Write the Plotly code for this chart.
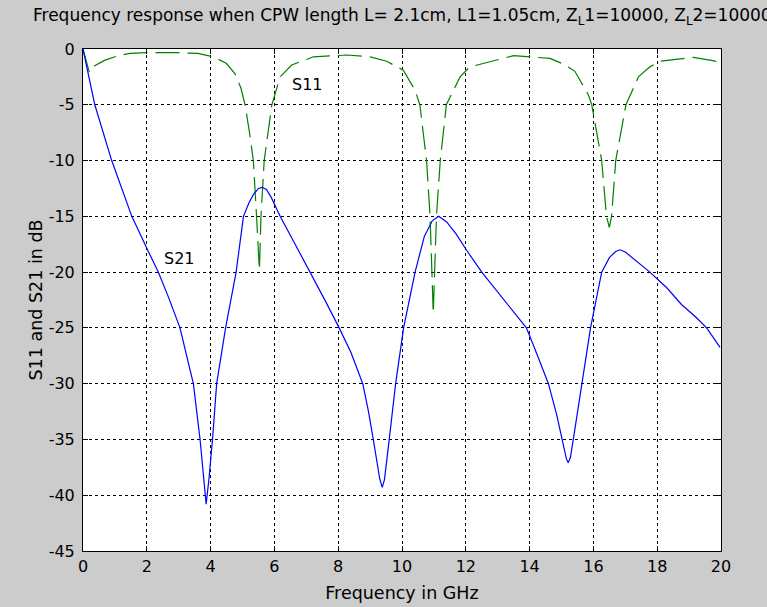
import plotly.graph_objects as go

# ---- data ----
s21_freq = [0, 0.37, 0.9, 1.53, 2.04, 2.36, 2.7, 3.04, 3.25, 3.46, 3.67, 3.78, 3.86, 3.95,
            4.06, 4.19, 4.47, 4.8, 5.03, 5.2, 5.35, 5.5, 5.62, 5.75, 5.9, 6.05, 6.18, 6.65,
            7.12, 7.6, 8.03, 8.4, 8.77, 8.95, 9.1, 9.3, 9.38, 9.45, 9.6, 9.8, 10.05,
            10.41, 10.7, 10.95, 11.15, 11.4, 11.7, 12.03, 12.5, 13.2, 13.9, 14.25, 14.59,
            14.85, 15.03, 15.15, 15.21, 15.28, 15.37, 15.63, 15.91, 16.26, 16.5, 16.7,
            16.83, 17.0, 17.3, 17.77, 18.3, 18.76, 19.2, 19.55, 19.97]
s21_db = [0, -5, -10, -15, -18.1, -20, -22.4, -25, -27.5, -30, -35, -38.2, -40.8, -38.5,
          -35, -30, -25, -20, -15, -13.8, -13.0, -12.5, -12.4, -12.6, -13.3, -14.2, -15, -17.5,
          -20, -22.6, -25, -27.2, -30, -32.5, -35, -38.5, -39.3, -38.6, -35, -30, -25,
          -20, -16.8, -15.4, -15.0, -15.5, -16.6, -18.06, -20, -22.5, -25, -27.5, -30,
          -32.8, -35, -36.7, -37.1, -36.6, -35, -30, -25, -20, -18.7, -18.15,
          -18.0, -18.2, -18.9, -20, -21.4, -22.9, -24.0, -25, -26.75]

s11_freq = [0, 0.2, 0.37, 0.69, 1.1, 1.47, 2.0, 3.0, 3.6, 4.09, 4.5, 4.76, 4.95, 5.08,
            5.22, 5.34, 5.44, 5.53, 5.58, 5.68, 5.92, 6.18, 6.54, 7.22, 8.27, 9.0, 9.52,
            10.04, 10.41, 10.56, 10.77, 10.88, 10.98, 11.03, 11.08, 11.2, 11.39, 11.82,
            12.13, 13.5, 14.64, 15.06, 15.42, 15.84, 15.95, 16.26, 16.41, 16.5, 16.57,
            16.7, 17.02, 17.41, 17.77, 18.09, 19.13, 19.65, 20.0]
s11_db = [0, -2.1, -1.5, -1.0, -0.6, -0.4, -0.33, -0.33, -0.4, -0.7, -1.3, -2.2, -3.5, -5,
          -7.5, -10, -15, -19.8, -15, -10, -5, -2.5, -1.44, -0.7, -0.54, -0.7, -1.1,
          -1.9, -3.7, -5, -10, -15, -23.7, -20, -15, -10, -5, -2.5,
          -1.6, -0.6, -0.84, -1.35, -2.0, -4.1, -5, -10, -15, -16.0, -15,
          -10, -5, -2.5, -1.6, -1.1, -0.75, -1.0, -1.2]

x_ticks = [0, 2, 4, 6, 8, 10, 12, 14, 16, 18, 20]
y_ticks = [0, -5, -10, -15, -20, -25, -30, -35, -40, -45]

title_text = ("Frequency response when CPW length L= 2.1cm, L1=1.05cm, "
              "Z<sub>L</sub>1=10000, Z<sub>L</sub>2=10000")

FONT = "DejaVu Sans"

fig = go.Figure()
fig.add_trace(go.Scatter(x=s11_freq, y=s11_db, mode="lines", name="S11",
                         line=dict(color="#008000", width=1.2, dash="24px,8px")))
fig.add_trace(go.Scatter(x=s21_freq, y=s21_db, mode="lines", name="S21",
                         line=dict(color="#0000ff", width=1.2)))

fig.add_annotation(x=6.5, y=-3.2, text="S11", showarrow=False, xanchor="left",
                   yanchor="middle", font=dict(family=FONT, size=16, color="black"))
fig.add_annotation(x=2.48, y=-18.8, text="S21", showarrow=False, xanchor="left",
                   yanchor="middle", font=dict(family=FONT, size=16, color="black"))

axis_common = dict(
    showline=True, linecolor="black", linewidth=1, mirror="ticks",
    ticks="inside", ticklen=5, tickcolor="black", tickwidth=1,
    showgrid=True, gridcolor="black", gridwidth=1, griddash="3px,3px",
    zeroline=False, automargin=False,
    tickfont=dict(family=FONT, size=16, color="black"),
)

fig.update_xaxes(range=[0, 20], tickvals=x_ticks, ticktext=[str(v) for v in x_ticks],
                 title=dict(text="Frequency in GHz", font=dict(family=FONT, size=17.5, color="black"),
                            standoff=11),
                 ticklabelstandoff=1, **axis_common)
fig.update_yaxes(range=[-45, 0], tickvals=y_ticks, ticktext=[str(v) for v in y_ticks],
                 title=dict(text="S11 and S21 in dB", font=dict(family=FONT, size=17.5, color="black"),
                            standoff=1),
                 ticklabelstandoff=4, **axis_common)

fig.update_layout(
    width=767, height=607,
    margin=dict(l=83, r=46, t=49, b=56),
    paper_bgcolor="#cccccc", plot_bgcolor="white",
    showlegend=False,
    title=dict(text=title_text, x=33 / 767, xanchor="left", xref="container",
               y=1 - 15 / 607, yanchor="middle", yref="container", automargin=False,
               font=dict(family=FONT, size=17, color="black")),
)

fig.write_html("out.html", config={"displayModeBar": False},
               post_script="document.body.style.margin='0';"
                           "document.body.style.overflow='hidden';")
